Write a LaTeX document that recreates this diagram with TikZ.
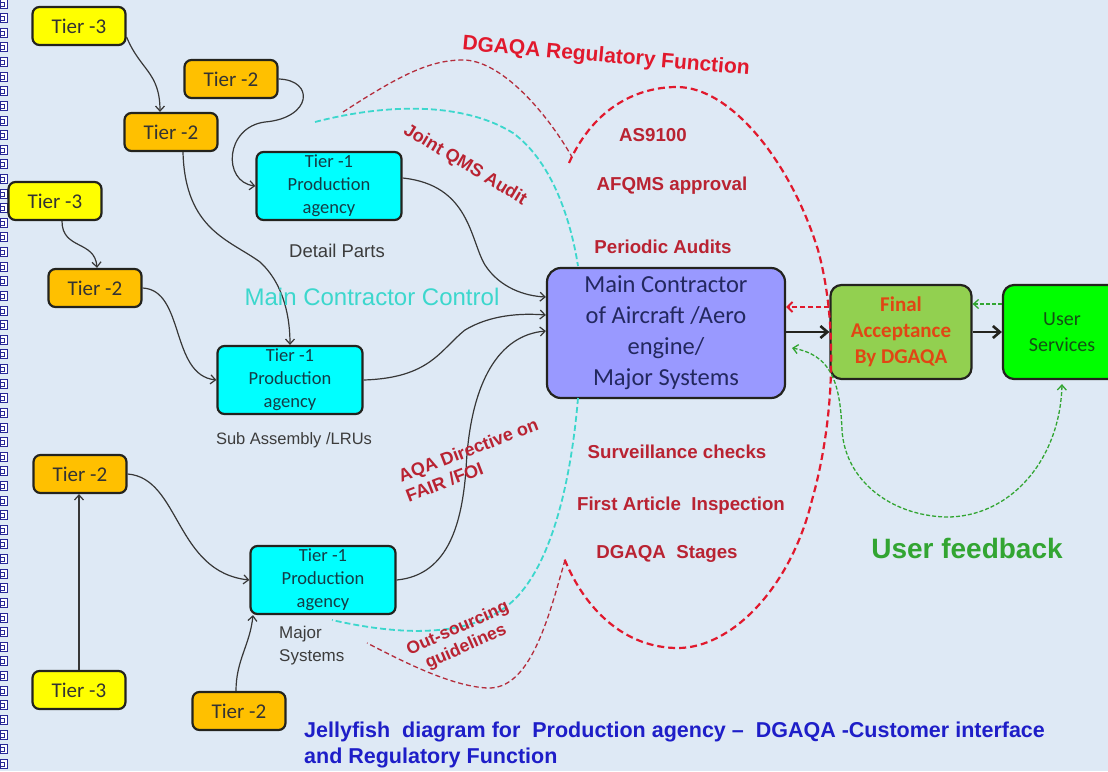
\documentclass[tikz,border=0pt]{standalone}
\usepackage{fontspec}
\setmainfont{Liberation Sans}
\newfontfamily\calib{Carlito}
\usetikzlibrary{arrows.meta}
\definecolor{bg}{RGB}{222,233,245}
\definecolor{tthree}{RGB}{255,255,0}
\definecolor{ttwo}{RGB}{255,192,0}
\definecolor{tone}{RGB}{0,255,255}
\definecolor{mainc}{RGB}{153,153,255}
\definecolor{finalc}{RGB}{146,208,80}
\definecolor{userc}{RGB}{0,255,0}
\definecolor{edge}{RGB}{35,35,30}
\definecolor{conn}{RGB}{55,55,55}
\definecolor{regred}{RGB}{225,25,45}
\definecolor{dred}{RGB}{185,35,50}
\definecolor{thinred}{RGB}{180,45,60}
\definecolor{cyanline}{RGB}{60,215,205}
\definecolor{fbgreen}{RGB}{50,165,50}
\definecolor{capblue}{RGB}{30,30,200}
\definecolor{lblgray}{RGB}{60,60,60}
\definecolor{navy}{RGB}{35,40,95}
\definecolor{finaltext}{RGB}{225,70,20}
\definecolor{iconblue}{RGB}{40,40,150}
\begin{document}
\begin{tikzpicture}[x=1pt,y=-1pt,
  box/.style={draw=edge, line width=2.2pt, rounded corners=7pt, inner sep=0pt, align=center},
  tierthree/.style={box, fill=tthree, minimum width=93pt, minimum height=38pt, font=\calib\fontsize{21}{24}\selectfont, text=black!80},
  tiertwo/.style={box, fill=ttwo, minimum width=93pt, minimum height=38pt, font=\calib\fontsize{21}{24}\selectfont, text=black!80},
  tierone/.style={box, fill=tone, minimum width=145pt, minimum height=68pt, font=\calib\fontsize{18.5}{23}\selectfont, text={rgb,255:red,20;green,60;blue,70}},
  mainbox/.style={box, fill=mainc, minimum width=238pt, minimum height=130pt, rounded corners=14pt, font=\calib\fontsize{24.5}{31}\selectfont, text=navy},
  finalbox/.style={box, fill=finalc, minimum width=141pt, minimum height=94pt, rounded corners=11pt, font=\calib\bfseries\fontsize{21}{26}\selectfont, text=finaltext},
  userbox/.style={box, fill=userc, minimum width=118pt, minimum height=94pt, rounded corners=11pt, font=\calib\fontsize{20}{26}\selectfont, text={rgb,255:red,20;green,80;blue,20}},
  lbl/.style={font=\fontsize{17}{23}\selectfont, text=lblgray, inner sep=0pt, align=center},
  redtxt/.style={font=\bfseries\fontsize{18.7}{22}\selectfont, text=dred, inner sep=0pt, align=center},
  cn/.style={draw=conn, line width=1.2pt, -{Straight Barb[length=5pt,width=9pt]}},
  bigarrow/.style={draw=edge, line width=2.6pt, -{Straight Barb[length=7pt,width=12pt,line width=2.6pt]}},
  regdash/.style={draw=regred, line width=2.2pt, dash pattern=on 7pt off 4pt},
  thindash/.style={draw=thinred, line width=1.3pt, dash pattern=on 5pt off 3pt},
  cyandash/.style={draw=cyanline, line width=1.8pt, dash pattern=on 6pt off 3pt},
  fbdash/.style={draw=fbgreen, line width=1.3pt, dash pattern=on 4pt off 2pt}
]
\useasboundingbox (0,0) rectangle (1108,771);
\fill[bg] (0,0) rectangle (1108,771);
% left icon strip
\foreach \i in {0,...,52}{
  \pgfmathsetmacro\yy{-1+14.62*\i}
  \draw[iconblue, line width=0.9pt, fill=white] (0.5,\yy) rectangle (7,\yy+9);
  \draw[iconblue, line width=0.9pt] (0.5,\yy+3) rectangle (4.5,\yy+7);
}

% tier nodes
\node[tierthree] (t3a) at (79,26) {Tier -3};
\node[tiertwo] (t2b) at (231,79) {Tier -2};
\node[tiertwo] (t2c) at (171,132) {Tier -2};
\node[tierone] (t1a) at (329,186) {Tier -1\\Production\\agency};
\node[tierthree] (t3d) at (55,201) {Tier -3};
\node[tiertwo] (t2e) at (95,288) {Tier -2};
\node[tierone] (t1b) at (290,380) {Tier -1\\Production\\agency};
\node[tiertwo] (t2f) at (80,474) {Tier -2};
\node[tierone] (t1c) at (323,580) {Tier -1\\Production\\agency};
\node[tierthree] (t3g) at (79,690) {Tier -3};
\node[tiertwo] (t2h) at (239,711) {Tier -2};
\node[mainbox] (mc) at (666,333) {Main Contractor\\of Aircraft /Aero\\engine/\\Major Systems};
\node[finalbox] (fa) at (901,332) {Final\\Acceptance\\By DGAQA};
\node[userbox] (us) at (1062,332) {User\\Services};

% labels
\node[lbl, font=\fontsize{18.5}{23}\selectfont] (ldp) at (337,251) {Detail Parts};
\node[lbl, font=\fontsize{16.5}{23}\selectfont] (lsa) at (294,440) {Sub Assembly /LRUs};
\node[lbl, align=left, anchor=west] (lms) at (279,646) {Major\\Systems};

% connectors
\draw[cn] ([yshift=-11pt]t3a.east) .. controls (140,70) and (160,72) .. ([xshift=-11pt]t2c.north);
\draw[cn] (t2b.east) .. controls (315,80) and (312,118) .. (265,122) .. controls (225,127) and (222,182) .. (t1a.west);
\draw[cn] ([xshift=12pt]t2c.south) .. controls (185,230) and (230,240) .. (260,262) .. controls (285,285) and (290,320) .. (t1b.north);
\draw[cn] ([yshift=8pt]t1a.east) .. controls (470,185) and (470,240) .. (485,265) .. controls (500,288) and (525,296) .. ([yshift=36pt]mc.west);
\draw[cn] ([xshift=7pt]t3d.south) .. controls (62,250) and (95,240) .. ([xshift=2pt]t2e.north);
\draw[cn] (t2e.east) .. controls (185,290) and (170,375) .. (t1b.west);
\draw[cn] (t1b.east) .. controls (430,378) and (440,350) .. (465,330) .. controls (490,315) and (520,313) .. ([yshift=18pt]mc.west);
\draw[cn] (t1c.east) .. controls (450,575) and (462,520) .. (466,470) .. controls (470,380) and (500,335) .. ([yshift=2pt]mc.west);
\draw[cn] (t2f.east) .. controls (180,478) and (175,572) .. (t1c.west);
\draw[cn] (t3g.north) -- (t3g.north |- t2f.south);
\draw[cn] ([xshift=-3pt]t2h.north) .. controls (236,660) and (250,645) .. ([xshift=-70pt]t1c.south);

% main flow arrows
\draw[bigarrow] ([yshift=1pt]mc.east) -- (fa.west);
\draw[bigarrow] (fa.east) -- (us.west);
\draw[draw=regred, line width=2pt, dash pattern=on 5pt off 3pt, -{Straight Barb[length=5pt,width=10pt,line width=2pt]}] ([yshift=25pt]fa.west) -- ([yshift=26pt]mc.east);
\draw[fbdash, -{Straight Barb[length=5pt,width=9pt]}] ([yshift=28pt]us.west) -- ([yshift=28pt]fa.east);

% feedback loop
\coordinate (fbstart) at (792,348);
\draw[fbdash, {Straight Barb[length=5pt,width=9pt]}-{Straight Barb[length=5pt,width=9pt]}] (fbstart) .. controls (830,355) and (840,380) .. (842,430) .. controls (845,480) and (890,515) .. (945,517) .. controls (1010,518) and (1060,460) .. ([yshift=-4pt]us.south);

% jellyfish dashed curves
\draw[thindash] (343,112) .. controls (400,75) and (430,60) .. (463,60) .. controls (500,60) and (545,110) .. (572,157);
\draw[thindash] (565,560) .. controls (548,620) and (530,690) .. (487,688) .. controls (450,686) and (400,660) .. (367,643);
\draw[cyandash] (315,122) .. controls (380,105) and (460,100) .. (513,133) .. controls (550,160) and (570,215) .. (578,266);
\draw[cyandash] (578,398) .. controls (572,470) and (555,560) .. (514,600) .. controls (480,632) and (420,640) .. (332,620);
\draw[regdash] (569,163) .. controls (595,105) and (640,87) .. (677,87)
  .. controls (730,87) and (790,160) .. (818,250)
  .. controls (840,330) and (832,430) .. (812,500)
  .. controls (790,590) and (730,648) .. (678,648)
  .. controls (625,648) and (585,610) .. (564,558);

% texts
\node[font=\bfseries\fontsize{21}{24}\selectfont, text=regred, rotate=-5, inner sep=0pt] (regt) at (606,57) {DGAQA Regulatory Function};
\node[redtxt, font=\bfseries\fontsize{18}{20}\selectfont, rotate=-31] (jqa) at (465,165) {Joint QMS Audit};
\node[redtxt] (as) at (653,135) {AS9100};
\node[redtxt] (afq) at (672,186) {AFQMS approval};
\node[redtxt] (pa) at (663,247) {Periodic Audits};
\node[font=\fontsize{24}{26}\selectfont, text=cyanline, inner sep=0pt] (mcc) at (372,297) {Main Contractor Control};
\node[redtxt, align=left, rotate=21, font=\bfseries\fontsize{18}{21}\selectfont] (aqa) at (472,460) {AQA Directive on\\FAIR /FOI};
\node[redtxt] (sc) at (677,452) {Surveillance checks};
\node[redtxt] (fai) at (681,506) {First Article\ \ Inspection};
\node[redtxt] (dst) at (667,554) {DGAQA\ \ Stages};
\node[redtxt, rotate=24, font=\bfseries\fontsize{17.5}{20}\selectfont] (osg) at (462,638) {Out-sourcing\\guidelines};
\node[font=\bfseries\fontsize{28}{30}\selectfont, text=fbgreen, inner sep=0pt] (uf) at (967,548) {User feedback};
\node[font=\bfseries\fontsize{21.5}{26}\selectfont, text=capblue, align=left, anchor=north west, inner sep=0pt] (cap) at (304,722) {Jellyfish\ \ diagram for\ \ Production agency --\ \ DGAQA -Customer interface\\and Regulatory Function};
\end{tikzpicture}
\end{document}
